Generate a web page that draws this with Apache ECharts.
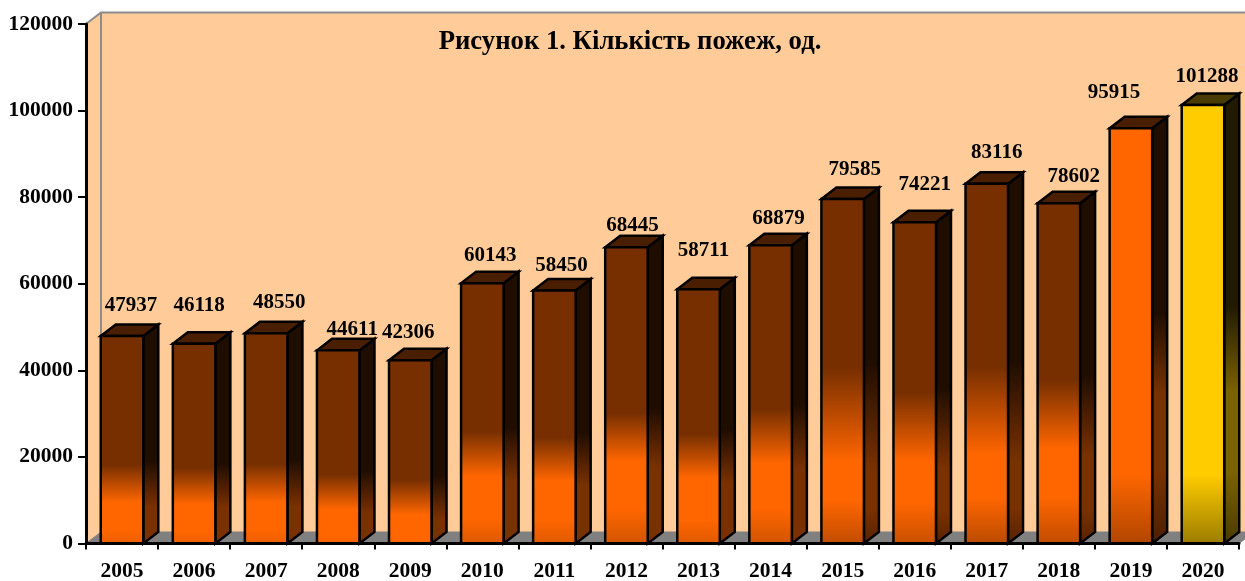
<!DOCTYPE html>
<html>
<head>
<meta charset="utf-8">
<style>
  html, body { margin: 0; padding: 0; background: #fff; }
  #chart { width: 1245px; height: 581px; }
</style>
</head>
<body>
<div id="chart"></div>
<script src="https://cdn.jsdelivr.net/npm/echarts@6/dist/echarts.min.js"></script>
<script>
const years = ['2005', '2006', '2007', '2008', '2009', '2010', '2011', '2012', '2013', '2014', '2015', '2016', '2017', '2018', '2019', '2020']
const fires = [47937, 46118, 48550, 44611, 42306, 60143, 58450, 68445, 58711, 68879, 79585, 74221, 83116, 78602, 95915, 101288]
const yTicks = { min: 0, max: 120000, interval: 20000 }
const titleText = 'Рисунок 1. Кількість пожеж, од.'

// the value labels sit by hand in the original, each one nudged differently
const labelDx = [9, 5, 13, 14, -2, 8, 7, 6, 5, 8, 12, 10, 10, 15, -17, 4]
const labelDy = [-30, -38, -31, -21, -28, -28, -25, -22, -39, -27, -29, -38, -31, -27, -36, -28]

// where the brown fades into orange, as a share of the bar height from its top
const fadeFrom = [0.62, 0.62, 0.62, 0.64, 0.65, 0.57, 0.58, 0.56, 0.57, 0.55, 0.49, 0.53, 0.51, 0.52]
const fadeTo = [0.80, 0.80, 0.80, 0.82, 0.84, 0.74, 0.75, 0.72, 0.74, 0.73, 0.76, 0.74, 0.75, 0.72]
const bottomFrom = [0.93, 0.93, 0.93, 0.95, 0.97, 0.90, 0.90, 0.88, 0.90, 0.88, 0.87, 0.87, 0.87, 0.86]
const bottomColor = ['#ea5e00', '#ee6000', '#ea5e00', '#f26200', '#fa6500', '#dc5800', '#e05a00', '#d05400', '#e05a00', '#d05400', '#c04c00', '#c85000', '#b84a00', '#c04c00']

const DEPTH_X = 15
const DEPTH_Y = 11.5
const FONT = '"Liberation Serif", "Times New Roman", serif'

function grad(stops) {
  return {
    type: 'linear', x: 0, y: 0, x2: 0, y2: 1,
    colorStops: stops.map(s => ({ offset: s[0], color: s[1] }))
  }
}

// 2019 and 2020 were painted differently from the rest
function barColors(i) {
  if (i === 15) {
    return {
      front: grad([[0, '#ffcc00'], [0.84, '#ffcc00'], [1, '#9a7b00']]),
      side: grad([[0, '#1f1a00'], [0.47, '#1f1a00'], [0.66, '#7a6200'], [0.84, '#7a6200'], [1, '#483a00']]),
      top: '#4a3c00'
    }
  }
  if (i === 14) {
    return {
      front: grad([[0, '#ff6600'], [0.83, '#ff6600'], [1, '#b04600']]),
      side: grad([[0, '#1f0d00'], [0.46, '#1f0d00'], [0.65, '#7a3100'], [0.83, '#7a3100'], [1, '#4c1e00']]),
      top: '#4a1e00'
    }
  }
  return {
    front: grad([
      [0, '#772f00'], [fadeFrom[i], '#772f00'], [fadeTo[i], '#ff6600'],
      [bottomFrom[i], '#ff6600'], [1, bottomColor[i]]
    ]),
    side: grad([
      [0, '#1f0d00'], [fadeFrom[i], '#1f0d00'], [fadeTo[i] + 0.03, '#7a3100'],
      [0.9, '#7a3100'], [1, i > 9 ? '#562200' : '#7a3100']
    ]),
    top: '#4a1e00'
  }
}

function renderBar(params, api) {
  const i = api.value(0)
  const val = api.value(1)
  const topPt = api.coord([i, val])
  const basePt = api.coord([i, 0])
  const w = api.size([1, 0])[0] * 0.59
  const x0 = topPt[0] - w / 2
  const x1 = topPt[0] + w / 2
  const colors = barColors(i)
  const edge = { stroke: '#000', lineWidth: 2.5, lineJoin: 'miter' }
  return {
    type: 'group',
    children: [
      {
        type: 'polygon',
        shape: { points: [[x1, topPt[1]], [x1 + DEPTH_X, topPt[1] - DEPTH_Y], [x1 + DEPTH_X, basePt[1] - DEPTH_Y], [x1, basePt[1]]] },
        style: { fill: colors.side, ...edge }
      },
      {
        type: 'polygon',
        shape: { points: [[x0, topPt[1]], [x0 + DEPTH_X, topPt[1] - DEPTH_Y], [x1 + DEPTH_X, topPt[1] - DEPTH_Y], [x1, topPt[1]]] },
        style: { fill: colors.top, ...edge }
      },
      {
        type: 'rect',
        shape: { x: x0, y: topPt[1], width: w, height: basePt[1] - topPt[1] },
        style: { fill: colors.front, ...edge }
      },
      {
        type: 'text',
        style: {
          x: topPt[0] + labelDx[i],
          y: topPt[1] + labelDy[i],
          text: String(val),
          align: 'center',
          verticalAlign: 'middle',
          fill: '#000',
          font: 'bold 21px ' + FONT
        }
      }
    ]
  }
}

// wall and floor of the fake 3d box
function renderBox(params) {
  const { x, y, width, height } = params.coordSys
  const b = y + height
  const r = x + width
  return {
    type: 'group',
    children: [
      {
        type: 'polygon',
        shape: { points: [[x, y], [x + DEPTH_X, y - DEPTH_Y], [r + DEPTH_X, y - DEPTH_Y], [r + DEPTH_X, b - DEPTH_Y], [x + DEPTH_X, b - DEPTH_Y], [x, b]] },
        style: { fill: '#ffcc99' }
      },
      {
        type: 'polygon',
        shape: { points: [[x, b], [x + DEPTH_X, b - DEPTH_Y], [r + DEPTH_X, b - DEPTH_Y], [r, b]] },
        style: { fill: '#808080', stroke: '#808080', lineWidth: 1 }
      },
      {
        type: 'polyline',
        shape: { points: [[x, y], [x + DEPTH_X, y - DEPTH_Y], [r + DEPTH_X, y - DEPTH_Y]] },
        style: { fill: null, stroke: '#8c8c8c', lineWidth: 2 }
      },
      {
        type: 'line',
        shape: { x1: x + DEPTH_X, y1: y - DEPTH_Y, x2: x + DEPTH_X, y2: b - DEPTH_Y },
        style: { stroke: '#8c8c8c', lineWidth: 2 }
      }
    ]
  }
}

const chart = echarts.init(document.getElementById('chart'), null, { renderer: 'canvas' })
chart.setOption({
  animation: false,
  backgroundColor: '#fff',
  title: {
    text: titleText,
    left: 625,
    top: 24,
    textAlign: 'center',
    textStyle: { fontFamily: FONT, fontWeight: 'bold', fontSize: 26.7, color: '#000' }
  },
  grid: { left: 86, right: 6, top: 24, bottom: 37.5, outerBoundsMode: 'none' },
  xAxis: {
    type: 'category',
    data: years,
    z: 5,
    axisLine: { lineStyle: { color: '#000', width: 3 } },
    axisTick: { show: true, alignWithLabel: false, length: 6, lineStyle: { color: '#000', width: 2 } },
    axisLabel: { interval: 0, margin: 17, color: '#000', fontFamily: FONT, fontWeight: 'bold', fontSize: 21.5 }
  },
  yAxis: {
    type: 'value',
    min: yTicks.min,
    max: yTicks.max,
    interval: yTicks.interval,
    z: 5,
    splitLine: { show: false },
    axisLine: { show: true, lineStyle: { color: '#000', width: 3 } },
    axisTick: { show: true, length: 8, lineStyle: { color: '#000', width: 2 } },
    axisLabel: { margin: 13, color: '#000', fontFamily: FONT, fontWeight: 'bold', fontSize: 21.5, formatter: v => String(v) }
  },
  series: [
    { type: 'custom', z: 1, silent: true, renderItem: renderBox, data: [[0, 0]] },
    {
      type: 'custom',
      z: 2,
      renderItem: renderBar,
      encode: { x: 0, y: 1 },
      data: fires.map((v, i) => [i, v])
    }
  ]
})
</script>
</body>
</html>
